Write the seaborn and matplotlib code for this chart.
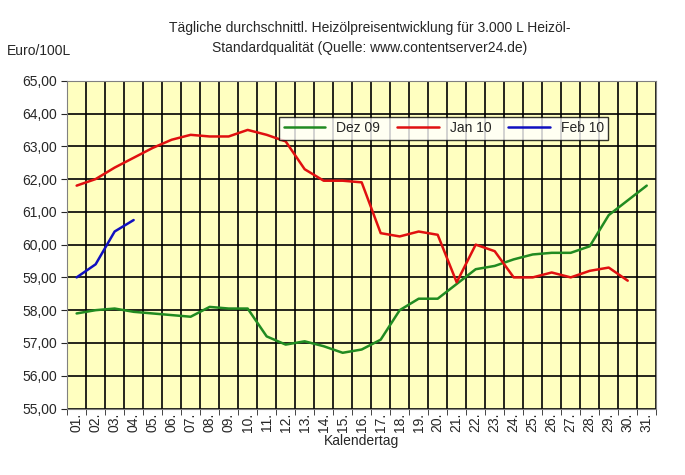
import matplotlib
matplotlib.use("Agg")
import matplotlib.pyplot as plt
import numpy as np
import pandas as pd
import seaborn as sns

days = [f"{d:02d}." for d in range(1, 32)]
dez09 = [57.9, 58.0, 58.05, 57.95, 57.9, 57.85, 57.8, 58.1, 58.05, 58.05, 57.2, 56.95,
         57.05, 56.9, 56.7, 56.8, 57.1, 58.0, 58.35, 58.35, 58.8, 59.25, 59.35, 59.55,
         59.7, 59.75, 59.75, 59.95, 60.9, 61.35, 61.8]
jan10 = [61.8, 62.0, 62.35, 62.65, 62.95, 63.2, 63.35, 63.3, 63.3, 63.5, 63.35, 63.15,
         62.3, 61.95, 61.95, 61.9, 60.35, 60.25, 60.4, 60.3, 58.85, 60.0, 59.8, 59.0,
         59.0, 59.15, 59.0, 59.2, 59.3, 58.9]
feb10 = [59.0, 59.4, 60.4, 60.75]

rows = []
for name, vals in [("Dez 09", dez09), ("Jan 10", jan10), ("Feb 10", feb10)]:
    for i, v in enumerate(vals):
        rows.append({"tag": i, "preis": v, "monat": name})
df = pd.DataFrame(rows)

sns.set_style("white")
plt.rcParams["font.family"] = ["Liberation Sans", "DejaVu Sans"]

fig = plt.figure(figsize=(6.85, 4.75), dpi=100)
ax = fig.add_axes([0.098, 0.14, 0.86, 0.69])
ax.set_facecolor("#FFFFC0")
sns.lineplot(data=df, x="tag", y="preis", hue="monat",
             palette={"Dez 09": "#218B21", "Jan 10": "#E01010", "Feb 10": "#1010C0"},
             linewidth=1.8, ax=ax)

ax.set_xlim(-0.5, 30.5)
ax.set_ylim(55, 65)
ax.set_xticks(range(31))
ax.set_xticklabels(days, rotation=90, fontsize=10)
ax.set_xticks(np.arange(-0.5, 31, 1), minor=True)
ax.set_yticks(np.arange(55, 65.01, 1))
ax.set_yticklabels([f"{v:.2f}".replace(".", ",") for v in np.arange(55, 65.01, 1)], fontsize=10)
ax.grid(which="minor", axis="x", color="black", linewidth=1.2)
ax.grid(which="major", axis="y", color="black", linewidth=1.2)
ax.tick_params(axis="x", which="major", length=0, pad=3)
ax.tick_params(axis="x", which="minor", length=4, bottom=True)
ax.tick_params(axis="y", length=4, left=True)
for s in ax.spines.values():
    s.set_color("#808080")
ax.set_xlabel("Kalendertag", fontsize=10, labelpad=1)
ax.set_ylabel("")
fig.text(0.01, 0.885, "Euro/100L", fontsize=10)
fig.text(0.54, 0.955, "Tägliche durchschnittl. Heizölpreisentwicklung für 3.000 L Heizöl-\n"
         "Standardqualität (Quelle: www.contentserver24.de)",
         ha="center", va="top", fontsize=10, linespacing=1.5)
leg = ax.legend(loc="upper right", bbox_to_anchor=(0.93, 0.91), ncol=3, fontsize=10,
                frameon=True, fancybox=False, edgecolor="black", handlelength=3,
                columnspacing=1.2, borderpad=0.3)
leg.get_frame().set_facecolor("white")
leg.get_frame().set_linewidth(1)
fig.savefig("out.png", dpi=100)
